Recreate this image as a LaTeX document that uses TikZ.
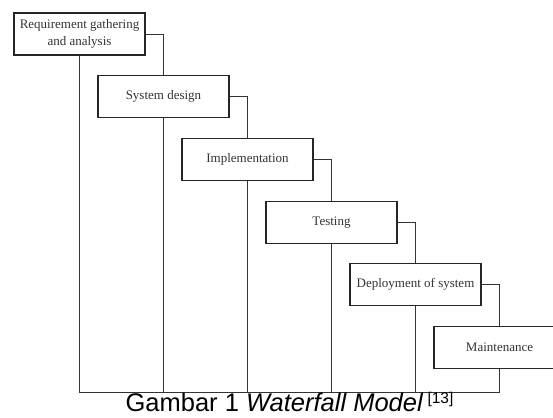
\documentclass[tikz,border=0pt]{standalone}
\usepackage{fontspec}
\setmainfont{Liberation Serif}
\newfontfamily\capfont{Liberation Sans}
\begin{document}
\begin{tikzpicture}[x=1pt,y=-1pt,
  phase/.style={draw=black!85, line width=1.1pt, fill=white, minimum width=131pt, minimum height=42pt,
    inner sep=0pt, align=center, text=black!80, font=\fontsize{13}{17}\selectfont},
  link/.style={draw=black!80, line width=0.8pt}]
\useasboundingbox (0,0) rectangle (553,417);
\clip (0,0) rectangle (553,417);
\coordinate (bl) at (0,392);
\node[phase] (b1) at (79.5,34) {Requirement gathering\\and analysis};
\node[phase] (b2) at (163.5,96.7) {System design};
\node[phase] (b3) at (247.5,159.4) {Implementation};
\node[phase] (b4) at (331.5,222.1) {Testing};
\node[phase] (b5) at (415.5,284.8) {Deployment of system};
\node[phase] (b6) at (499.5,347.5) {Maintenance};
\draw[link] (b1.east) -| (b2.north);
\draw[link] (b2.east) -| (b3.north);
\draw[link] (b3.east) -| (b4.north);
\draw[link] (b4.east) -| (b5.north);
\draw[link] (b5.east) -| (b6.north);
\draw[link] (b1.south) |- (b6.south |- bl) -- (b6.south);
\draw[link] (b2.south) -- (b2.south |- bl);
\draw[link] (b3.south) -- (b3.south |- bl);
\draw[link] (b4.south) -- (b4.south |- bl);
\draw[link] (b5.south) -- (b5.south |- bl);
\node[anchor=base, inner sep=0pt, font=\capfont\fontsize{25.5}{28}\selectfont] (cap) at (289.5,411.5)
  {Gambar 1 \textit{Waterfall Model}\,\raisebox{8.5pt}{\fontsize{15.5}{18}\selectfont[13]}};
\end{tikzpicture}
\end{document}
